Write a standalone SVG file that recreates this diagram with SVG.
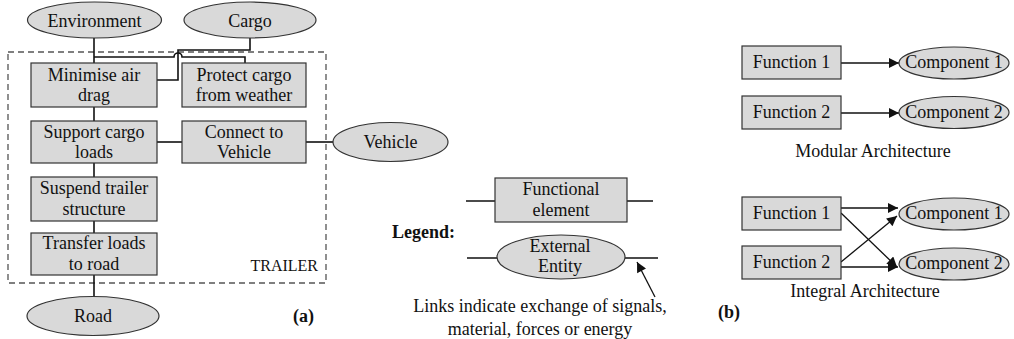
<svg xmlns="http://www.w3.org/2000/svg" width="1014" height="339" viewBox="0 0 1014 339">
  <style>
    text { font-family: "Liberation Serif", "Times New Roman", serif; font-size: 18px; fill: #111; }
    .c { text-anchor: middle; }
    .b { font-weight: bold; }
    .box { fill: #d9d9d9; stroke: #333; stroke-width: 1.2; }
    .ent { fill: #d9d9d9; stroke: #333; stroke-width: 1.2; }
    .link { fill: none; stroke: #111; stroke-width: 1.6; }
    .arr { fill: none; stroke: #111; stroke-width: 1.3; marker-end: url(#head); }
    .boundary { fill: none; stroke: #555; stroke-width: 1.3; stroke-dasharray: 6 4; }
  </style>
  <defs>
    <marker id="head" viewBox="0 0 10 10" refX="10" refY="5" markerWidth="11" markerHeight="10" markerUnits="userSpaceOnUse" orient="auto">
      <path d="M0,0 L10,5 L0,10 z" fill="#111"/>
    </marker>
  </defs>

  <rect width="1014" height="339" fill="#fff"/>

  <!-- (a) trailer functional structure -->
  <rect id="trailer-boundary" class="boundary" x="8" y="52" width="318" height="231"/>
  <text x="318" y="271" style="font-size:16px" text-anchor="end">TRAILER</text>

  <g id="connectors">
    <path class="link" d="M94,38 V63"/>
    <path class="link" d="M94,57 H174 A4,4 0 0 1 182,57 H245 V63"/>
    <path class="link" d="M250,38 V50 H178 V80 H157"/>
    <path class="link" d="M94,107 V121"/>
    <path class="link" d="M157,142 H182"/>
    <path class="link" d="M306,142 H333"/>
    <path class="link" d="M94,163 V177"/>
    <path class="link" d="M94,221 V233"/>
    <path class="link" d="M94,275 V297"/>
    <!-- legend links -->
    <path class="link" d="M466,201 H495 M627,201 H653"/>
    <path class="link" d="M467,258 H497 M625,258 H658"/>
    <path class="arr" d="M655,297 L637,262"/>
    <!-- modular architecture -->
    <path class="arr" d="M841,63 H899"/>
    <path class="arr" d="M841,113 H899"/>
    <!-- integral architecture -->
    <path class="arr" d="M841,208 H898"/>
    <path class="arr" d="M841,213 L897,267"/>
    <path class="arr" d="M841,262 L897,216"/>
    <path class="arr" d="M841,267 H898"/>
  </g>

  <g id="environment">
    <ellipse class="ent" cx="94.5" cy="20" rx="67" ry="18"/>
    <text class="c" x="94.5" y="26.5">Environment</text>
  </g>
  <g id="cargo">
    <ellipse class="ent" cx="250" cy="20" rx="66" ry="18"/>
    <text class="c" x="250" y="26.5">Cargo</text>
  </g>
  <g id="minimise-drag">
    <rect class="box" x="31" y="63" width="126" height="44"/>
    <text class="c" x="94" y="81">Minimise air</text>
    <text class="c" x="94" y="101">drag</text>
  </g>
  <g id="protect-cargo">
    <rect class="box" x="182" y="63" width="124" height="44"/>
    <text class="c" x="244" y="81">Protect cargo</text>
    <text class="c" x="244" y="101">from weather</text>
  </g>
  <g id="support-loads">
    <rect class="box" x="31" y="121" width="126" height="42"/>
    <text class="c" x="94" y="138">Support cargo</text>
    <text class="c" x="94" y="158">loads</text>
  </g>
  <g id="connect-vehicle">
    <rect class="box" x="182" y="121" width="124" height="42"/>
    <text class="c" x="244" y="138">Connect to</text>
    <text class="c" x="244" y="158">Vehicle</text>
  </g>
  <g id="vehicle">
    <ellipse class="ent" cx="390.5" cy="142" rx="57.5" ry="19.5"/>
    <text class="c" x="390.5" y="148">Vehicle</text>
  </g>
  <g id="suspend-structure">
    <rect class="box" x="31" y="177" width="126" height="44"/>
    <text class="c" x="94" y="194">Suspend trailer</text>
    <text class="c" x="94" y="215">structure</text>
  </g>
  <g id="transfer-loads">
    <rect class="box" x="31" y="233" width="126" height="42"/>
    <text class="c" x="94" y="249">Transfer loads</text>
    <text class="c" x="94" y="270">to road</text>
  </g>
  <g id="road">
    <ellipse class="ent" cx="93" cy="316" rx="66" ry="19.5"/>
    <text class="c" x="93" y="322">Road</text>
  </g>
  <text class="b" x="293" y="322">(a)</text>

  <!-- legend -->
  <text class="b" x="392" y="238">Legend:</text>
  <g id="legend-functional">
    <rect class="box" x="495" y="178" width="132" height="44"/>
    <text class="c" x="561" y="195">Functional</text>
    <text class="c" x="561" y="216">element</text>
  </g>
  <g id="legend-external">
    <ellipse class="ent" cx="561" cy="257" rx="64" ry="22"/>
    <text class="c" x="560" y="252">External</text>
    <text class="c" x="560" y="272">Entity</text>
  </g>
  <text class="c" x="540" y="312">Links indicate exchange of signals,</text>
  <text class="c" x="540" y="335">material, forces or energy</text>

  <!-- (b) modular vs integral -->
  <g id="mod-function-1">
    <rect class="box" x="742" y="46" width="99" height="33"/>
    <text class="c" x="791.5" y="68">Function 1</text>
  </g>
  <g id="mod-function-2">
    <rect class="box" x="742" y="96" width="99" height="33"/>
    <text class="c" x="791.5" y="118">Function 2</text>
  </g>
  <g id="mod-component-1">
    <ellipse class="ent" cx="954" cy="63" rx="55" ry="16"/>
    <text class="c" x="954" y="68">Component 1</text>
  </g>
  <g id="mod-component-2">
    <ellipse class="ent" cx="954" cy="112.5" rx="55" ry="16"/>
    <text class="c" x="954" y="117.5">Component 2</text>
  </g>
  <text class="c" x="873" y="157">Modular Architecture</text>

  <g id="int-function-1">
    <rect class="box" x="742" y="197" width="99" height="33"/>
    <text class="c" x="791.5" y="219">Function 1</text>
  </g>
  <g id="int-function-2">
    <rect class="box" x="742" y="246" width="99" height="33"/>
    <text class="c" x="791.5" y="268">Function 2</text>
  </g>
  <g id="int-component-1">
    <ellipse class="ent" cx="954" cy="214" rx="55" ry="16"/>
    <text class="c" x="954" y="219">Component 1</text>
  </g>
  <g id="int-component-2">
    <ellipse class="ent" cx="954" cy="264" rx="55" ry="16"/>
    <text class="c" x="954" y="269">Component 2</text>
  </g>
  <text class="c" x="865" y="297">Integral Architecture</text>
  <text class="b" x="718" y="318">(b)</text>
</svg>
